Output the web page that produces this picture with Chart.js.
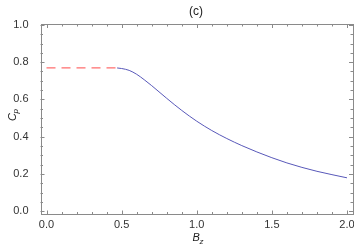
<!DOCTYPE html>
<html>
<head>
<meta charset="utf-8">
<script src="https://cdn.jsdelivr.net/npm/chart.js@4.4.1/dist/chart.umd.min.js"></script>
<style>
  html, body { margin: 0; padding: 0; background: #fff; }
  canvas { display: block; }
</style>
</head>
<body>
<canvas id="cp-plot" width="354" height="249"></canvas>
<script>
// solid curve (blue)
const bz = [0.47, 0.5, 0.55, 0.6, 0.65, 0.7, 0.8, 0.9, 1.0, 1.1, 1.2, 1.3, 1.4, 1.5, 1.6, 1.7, 1.8, 1.9, 2.0];
const cp = [0.769, 0.766, 0.756, 0.735, 0.706, 0.674, 0.606, 0.541, 0.483, 0.433, 0.390, 0.352, 0.318, 0.287, 0.259, 0.235, 0.214, 0.196, 0.179];
// dashed plateau (red)
const bzFlat = [0, 0.47];
const cpFlat = [0.769, 0.769];

const xTicks = [0, 0.5, 1.0, 1.5, 2.0];
const yTicks = [0, 0.2, 0.4, 0.6, 0.8, 1.0];
const xMinor = 0.1;
const yMinor = 0.05;

const FONT = '"Liberation Sans", Arial, sans-serif';
const frameColor = '#8a8a8a';

const toPts = (xs, ys) => xs.map((x, i) => ({x: x, y: ys[i]}));

// frame with inward ticks on all four sides, title and axis labels
const framePlugin = {
    id: 'frame',
    afterDatasetsDraw(chart) {
        const ctx = chart.ctx;
        const a = chart.chartArea;
        const sx = chart.scales.x, sy = chart.scales.y;
        ctx.save();
        ctx.strokeStyle = frameColor;
        ctx.lineWidth = 1;
        ctx.strokeRect(Math.round(a.left) + 0.5, Math.round(a.top) + 0.5,
            Math.round(a.right - a.left) - 1, Math.round(a.bottom - a.top) - 1);

        ctx.beginPath();
        for (let v = 0; v <= 2.0001; v += xMinor) {
            const major = Math.abs(v / 0.5 - Math.round(v / 0.5)) < 1e-6;
            const len = major ? 4 : 2.5;
            const px = Math.round(sx.getPixelForValue(v)) + 0.5;
            ctx.moveTo(px, a.bottom); ctx.lineTo(px, a.bottom - len);
            ctx.moveTo(px, a.top); ctx.lineTo(px, a.top + len);
        }
        for (let v = 0; v <= 1.0001; v += yMinor) {
            const major = Math.abs(v / 0.2 - Math.round(v / 0.2)) < 1e-6;
            const len = major ? 4 : 2.5;
            const py = Math.round(sy.getPixelForValue(v)) + 0.5;
            ctx.moveTo(a.left, py); ctx.lineTo(a.left + len, py);
            ctx.moveTo(a.right, py); ctx.lineTo(a.right - len, py);
        }
        ctx.stroke();

        ctx.fillStyle = '#222';
        ctx.textBaseline = 'alphabetic';
        // title
        ctx.font = '12px ' + FONT;
        ctx.textAlign = 'center';
        ctx.fillText('(c)', 196, 15);

        // x label: B_z
        ctx.textAlign = 'left';
        ctx.font = 'italic 11px ' + FONT;
        ctx.fillText('B', 192.5, 241);
        ctx.font = 'italic 8px ' + FONT;
        ctx.fillText('z', 199.5, 243.5);

        // y label: C_p (rotated)
        ctx.translate(15.5, 121);
        ctx.rotate(-Math.PI / 2);
        ctx.font = 'italic 11px ' + FONT;
        ctx.fillText('C', 0, 0);
        ctx.font = 'italic 8px ' + FONT;
        ctx.fillText('p', 7.5, 2.5);
        ctx.restore();
    }
};

new Chart(document.getElementById('cp-plot').getContext('2d'), {
    type: 'scatter',
    data: {
        datasets: [
            {
                data: toPts(bzFlat, cpFlat),
                showLine: true,
                borderColor: 'rgb(255,110,110)',
                borderWidth: 1.2,
                borderDash: [9, 6],
                pointRadius: 0,
            },
            {
                data: toPts(bz, cp),
                showLine: true,
                cubicInterpolationMode: 'monotone',
                borderColor: 'rgb(88,88,185)',
                borderWidth: 1,
                pointRadius: 0,
            },
        ]
    },
    options: {
        responsive: false,
        animation: false,
        devicePixelRatio: 1,
        layout: { padding: { top: 24, right: 1, left: 0, bottom: 0 } },
        plugins: { legend: { display: false }, tooltip: { enabled: false } },
        scales: {
            x: {
                type: 'linear',
                min: -0.04,
                max: 2.04,
                afterBuildTicks: s => { s.ticks = xTicks.map(v => ({value: v})); },
                afterFit: s => { s.height = 34.5; },
                grid: { display: false },
                border: { display: false },
                ticks: {
                    color: '#333',
                    font: { family: FONT, size: 11 },
                    padding: -4,
                    maxRotation: 0,
                    callback: v => v.toFixed(1),
                },
            },
            y: {
                type: 'linear',
                min: -0.018,
                max: 1.005,
                afterBuildTicks: s => { s.ticks = yTicks.map(v => ({value: v})); },
                afterFit: s => { s.width = 40.5; },
                grid: { display: false },
                border: { display: false },
                ticks: {
                    color: '#333',
                    font: { family: FONT, size: 11 },
                    padding: 4,
                    callback: v => v.toFixed(1),
                },
            },
        },
    },
    plugins: [framePlugin],
});
</script>
</body>
</html>
